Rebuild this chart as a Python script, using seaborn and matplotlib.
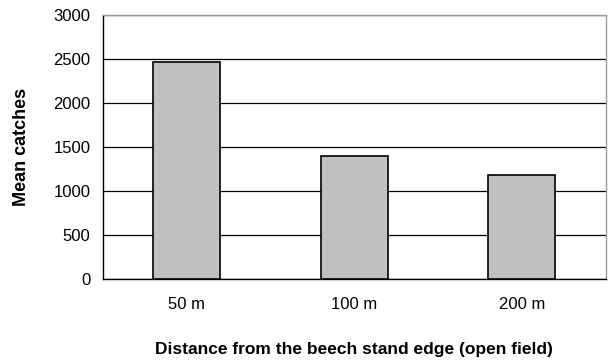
import matplotlib
matplotlib.use("Agg")
import matplotlib.pyplot as plt
import seaborn as sns
import pandas as pd

# datos
distancias = ["50 m", "100 m", "200 m"]
capturas = [2471, 1393, 1176]

df = pd.DataFrame({"distancia": distancias, "capturas": capturas})

sns.set_style("white", {"text.color": "black", "axes.labelcolor": "black",
                        "xtick.color": "black", "ytick.color": "black"})
plt.rcParams["font.family"] = ["Liberation Sans", "DejaVu Sans"]

fig = plt.figure(figsize=(6.1, 3.6), dpi=100)
ax = fig.add_axes([0.169, 0.226, 0.824, 0.732])

sns.barplot(data=df, x="distancia", y="capturas", color="#C0C0C0",
            edgecolor="black", linewidth=1.2, width=0.4, saturation=1,
            ax=ax, zorder=3)

ax.set_ylim(0, 3000)
ax.set_xlim(-0.5, 2.5)
ax.set_yticks(range(0, 3001, 500))
ax.yaxis.grid(True, color="black", linewidth=0.9, zorder=0)
ax.set_axisbelow(True)

# ticks del eje x en los limites de cada categoria
ax.set_xticks([-0.5, 0.5, 1.5, 2.5], minor=True)
ax.tick_params(axis="x", which="major", length=0, labelsize=12, pad=13)
ax.tick_params(axis="x", which="minor", length=4, width=0.9, color="black", direction="out")
ax.tick_params(axis="y", length=4, width=0.9, color="black", direction="out", labelsize=12, pad=5)

for lado in ["left", "bottom"]:
    ax.spines[lado].set_color("black")
    ax.spines[lado].set_linewidth(1.0)
for lado in ["top", "right"]:
    ax.spines[lado].set_color("#999999")
    ax.spines[lado].set_linewidth(1.0)

ax.set_xlabel("Distance from the beech stand edge (open field)", fontsize=12.5,
              fontweight="bold", labelpad=22)
ax.set_ylabel("Mean catches", fontsize=13, fontweight="bold", labelpad=17)

plt.savefig("out.png", dpi=100)
